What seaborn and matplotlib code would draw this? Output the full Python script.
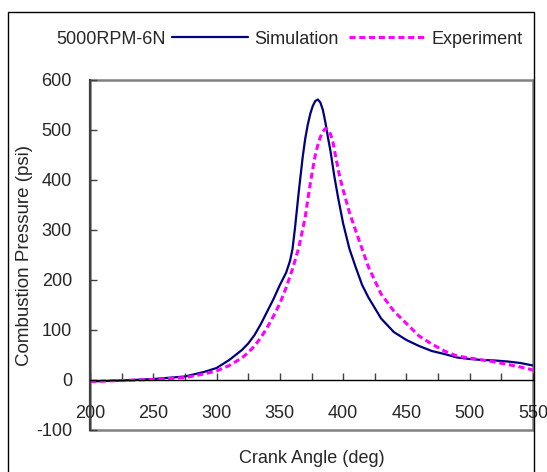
import numpy as np
import pandas as pd
import matplotlib
matplotlib.use('Agg')
import matplotlib.pyplot as plt
import seaborn as sns
from matplotlib.patches import Rectangle
from matplotlib.ticker import MultipleLocator

# crank angle (deg) and pressure (psi)
sim_angle = [200, 225, 250, 275, 290, 300, 310, 320, 325, 330, 335, 340, 345, 350, 355,
             358, 360, 362, 365, 368, 370, 372, 374, 376, 378, 380, 382, 384, 386, 388,
             390, 393, 396, 400, 405, 410, 415, 420, 430, 440, 450, 460, 470, 480, 490,
             500, 510, 520, 530, 540, 550]
sim_psi = [-3, -1, 2, 7, 16, 24, 40, 60, 73, 90, 112, 137, 162, 190, 215,
           238, 262, 305, 378, 445, 482, 510, 532, 548, 558, 561, 555, 540, 515, 485,
           458, 408, 365, 313, 262, 225, 190, 165, 123, 96, 80, 68, 58, 52, 45,
           42, 40, 39, 37, 34, 29]

exp_angle = [200, 225, 250, 275, 290, 300, 310, 320, 325, 330, 335, 340, 345, 350, 355,
             360, 365, 370, 372, 374, 376, 378, 380, 382, 384, 386, 388, 390, 392, 394,
             397, 400, 405, 410, 420, 430, 440, 450, 460, 470, 480, 490, 500, 510, 520,
             530, 540, 550]
exp_psi = [-3, -1, 1, 5, 12, 18, 29, 44, 55, 68, 85, 105, 128, 153, 185,
           222, 265, 325, 360, 392, 422, 450, 470, 486, 497, 503, 501, 492, 475, 448,
           410, 380, 335, 298, 226, 172, 138, 113, 88, 72, 58, 48, 44, 40, 36,
           31, 26, 20]

sim = pd.DataFrame({'angle': sim_angle, 'psi': sim_psi})
exp = pd.DataFrame({'angle': exp_angle, 'psi': exp_psi})

sns.set_style('white')
plt.rcParams['font.family'] = ['Liberation Sans', 'DejaVu Sans']
plt.rcParams['font.size'] = 13
plt.rcParams['axes.unicode_minus'] = False

fig = plt.figure(figsize=(5.47, 4.72), dpi=100)
ax = fig.add_axes([90/547, 42/472, 443/547, 350/472])

sns.lineplot(data=sim, x='angle', y='psi', ax=ax, color='#000080', lw=1.6, label='Simulation')
sns.lineplot(data=exp, x='angle', y='psi', ax=ax, color='#FF00FF', lw=2.2, label='Experiment')
ax.lines[1].set_dashes((2, 1.2))

ax.set_xlim(200, 550)
ax.set_ylim(-100, 600)
ax.xaxis.set_major_locator(MultipleLocator(50))
ax.xaxis.set_minor_locator(MultipleLocator(25))
ax.yaxis.set_major_locator(MultipleLocator(100))

for s in ['top', 'right']:
    ax.spines[s].set_visible(False)
ax.spines['bottom'].set_position(('data', 0))
ax.spines['bottom'].set_color('black')
ax.spines['bottom'].set_linewidth(1.0)
ax.spines['left'].set_color('#404040')
ax.spines['left'].set_linewidth(1.6)
ax.add_patch(Rectangle((0, 0), 1, 1, transform=ax.transAxes, fill=False,
                       edgecolor='#808080', lw=1.8, clip_on=False, zorder=0.5))

ax.tick_params(axis='x', which='both', direction='in', length=5, width=1, color='#404040',
               pad=18, labelsize=13, bottom=True)
ax.tick_params(axis='y', direction='in', length=5, width=1, color='#404040',
               pad=13, labelsize=13, left=True)

ax.set_xlabel('Crank Angle (deg)', fontsize=13)
ax.set_ylabel('Combustion Pressure (psi)', fontsize=13.5)
ax.xaxis.set_label_coords(0.5, -0.056)
ax.yaxis.set_label_coords(-0.128, 0.5)

ax.get_legend().remove()
h, l = ax.get_legend_handles_labels()
fig.legend(h, l, loc='center left', bbox_to_anchor=(172/547, 1 - 39/472), ncol=2,
           frameon=False, borderpad=0, borderaxespad=0, handlelength=4.2,
           handletextpad=0.35, columnspacing=0.6, fontsize=13)
fig.text(56/547, 1 - 39/472, '5000RPM-6N', va='center', ha='left', fontsize=13)

fig.add_artist(Rectangle((8/547, -0.05), 526/547, 1.05 - 12/472, transform=fig.transFigure,
                         fill=False, edgecolor='black', lw=1.0))

fig.savefig('out.png', dpi=100)
